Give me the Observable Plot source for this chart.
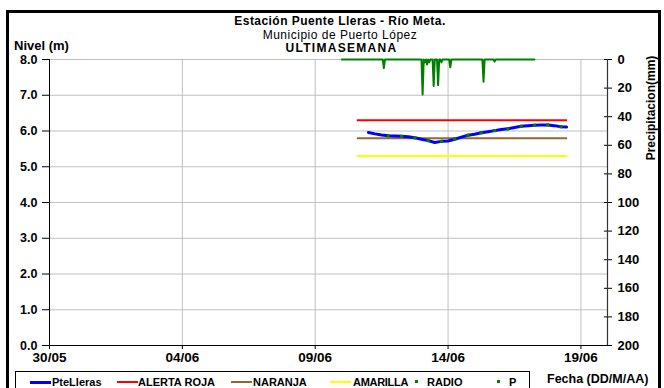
<!DOCTYPE html>
<html>
<head>
<meta charset="utf-8">
<script src="https://cdn.jsdelivr.net/npm/d3@7"></script>
<script src="https://cdn.jsdelivr.net/npm/@observablehq/plot@0.6"></script>
<style>
  html, body { margin: 0; padding: 0; background: #fff; }
  #wrap { position: relative; width: 664px; height: 388px; overflow: hidden; font-family: "Liberation Sans", Arial, sans-serif; color: #000; }
  #wrap svg { position: absolute; left: 0; top: 0; }
  .abs { position: absolute; white-space: nowrap; line-height: 13px; }
  #border { position: absolute; left: 6px; top: 10px; width: 655px; height: 400px; border: 3px solid #000; box-sizing: border-box; }
  #legend { position: absolute; left: 15px; top: 371px; width: 515px; height: 30px; border: 1px solid #000; box-sizing: border-box; }
  .lg { position: absolute; top: 4px; font-size: 11px; font-weight: bold; line-height: 12px; white-space: nowrap; }
  .sw { position: absolute; }
</style>
</head>
<body>
<div id="wrap">
  <div id="border"></div>
</div>
<script>
// ---------------- DATA ----------------
const YEAR = 2024;
const xDomainLabels = ["30/05 00:00", "20/06 00:00"];
const xTickLabels = ["30/05", "04/06", "09/06", "14/06", "19/06"];
const levelTicks = [0, 1, 2, 3, 4, 5, 6, 7, 8];
const precipTicks = [0, 20, 40, 60, 80, 100, 120, 140, 160, 180, 200];

// PteLleras water level (m)
const levelTimes = [
  "11/06 00:00", "11/06 06:00", "11/06 12:00", "11/06 18:00",
  "12/06 00:00", "12/06 06:00", "12/06 12:00", "12/06 18:00",
  "13/06 00:00", "13/06 06:00", "13/06 12:00", "13/06 18:00",
  "14/06 00:00", "14/06 06:00", "14/06 12:00", "14/06 18:00",
  "15/06 00:00", "15/06 06:00", "15/06 12:00", "15/06 18:00",
  "16/06 00:00", "16/06 06:00", "16/06 12:00", "16/06 18:00",
  "17/06 00:00", "17/06 06:00", "17/06 12:00", "17/06 18:00",
  "18/06 00:00", "18/06 06:00", "18/06 11:00"
];
const levelValues = [
  5.96, 5.92, 5.89, 5.87,
  5.86, 5.85, 5.84, 5.81,
  5.77, 5.73, 5.68, 5.71,
  5.72, 5.77, 5.83, 5.88,
  5.91, 5.95, 5.98, 6.01,
  6.04, 6.06, 6.10, 6.13,
  6.15, 6.16, 6.17, 6.17,
  6.15, 6.12, 6.11
];

// RADIO readings (m)
const radioTimes = [
  "11/06 18:00", "12/06 06:00", "12/06 18:00", "13/06 06:00", "13/06 18:00",
  "14/06 06:00", "14/06 18:00", "15/06 06:00", "15/06 18:00", "16/06 06:00",
  "16/06 18:00", "17/06 06:00", "17/06 18:00", "18/06 06:00"
];
const radioValues = [5.87, 5.85, 5.81, 5.73, 5.71, 5.78, 5.88, 5.95, 6.01, 6.06, 6.13, 6.16, 6.17, 6.12];

// Alert thresholds (m)
const thresholdNames = ["ALERTA ROJA", "NARANJA", "AMARILLA"];
const thresholdValues = [6.3, 5.8, 5.3];
const thresholdStart = "10/06 14:00";
const thresholdEnd = "18/06 12:00";

// Precipitation P (mm)
const pTimes = [
  "10/06 00:00", "11/06 13:00", "11/06 14:00", "11/06 15:00",
  "13/06 00:00", "13/06 01:00", "13/06 02:00", "13/06 03:00", "13/06 04:00",
  "13/06 05:00", "13/06 06:00", "13/06 07:00", "13/06 08:00",
  "13/06 10:00", "13/06 11:00", "13/06 12:00",
  "13/06 14:00", "13/06 15:00", "13/06 16:00",
  "13/06 17:00", "13/06 18:00", "13/06 19:00",
  "14/06 01:00", "14/06 02:00", "14/06 03:00",
  "15/06 07:00", "15/06 08:00", "15/06 09:00",
  "15/06 17:00", "15/06 18:00", "15/06 19:00",
  "17/06 06:00"
];
const pValues = [
  0, 0, 6, 0,
  0, 24.5, 0, 2, 0,
  3.5, 0, 2, 0,
  0, 18.5, 0,
  0, 18, 0,
  0, 2, 0,
  0, 5.5, 0,
  0, 15.5, 0,
  0, 1.5, 0,
  0
];

const legendNames = ["PteLleras", "ALERTA ROJA", "NARANJA", "AMARILLA", "RADIO", "P"];

// ---------------- STYLE ----------------
const colors = {
  "PteLleras": "#0000ff", "ALERTA ROJA": "#ff0000", "NARANJA": "#996633",
  "AMARILLA": "#ffff00", "RADIO": "#008000", "P": "#008000"
};
const FONT = '"Liberation Sans", Arial, sans-serif';

// ---------------- BUILD ----------------
const parse = d3.utcParse("%d/%m/%Y %H:%M");
const t = s => parse(s.replace(" ", "/" + YEAR + " "));
const tDay = s => t(s + " 00:00");
const PMAX = 200, LMAX = 8;
const pToY = p => LMAX - p * LMAX / PMAX;

const xMin = t(xDomainLabels[0]), xMax = t(xDomainLabels[1]);
const xTicks = xTickLabels.map(tDay);
const xLabelOf = new Map(xTicks.map((d, i) => [+d, xTickLabels[i]]));

const level = levelTimes.map((s, i) => ({time: t(s), value: levelValues[i]}));
const radio = radioTimes.map((s, i) => ({time: t(s), value: radioValues[i]}));
const precip = pTimes.map((s, i) => ({time: t(s), value: pValues[i]}));
const thresholds = thresholdNames.map((n, i) => ({name: n, value: thresholdValues[i], x1: t(thresholdStart), x2: t(thresholdEnd)}));

const chart = Plot.plot({
  width: 664,
  height: 388,
  marginLeft: 49,
  marginRight: 57,
  marginTop: 59,
  marginBottom: 43,
  style: {fontFamily: FONT, fontSize: "12.5px", fontWeight: "bold", color: "#000", background: "transparent", overflow: "visible"},
  x: {type: "utc", domain: [xMin, xMax]},
  y: {domain: [0, LMAX]},
  marks: [
    Plot.gridY(levelTicks, {stroke: "#c0c0c0", strokeOpacity: 1, strokeWidth: 1}),
    Plot.gridX(xTicks, {stroke: "#c0c0c0", strokeOpacity: 1, strokeWidth: 1}),
    Plot.axisY(levelTicks, {anchor: "left", tickSize: 7, tickPadding: 5, tickFormat: d3.format(".1f"), label: null, stroke: "#000"}),
    Plot.axisX(xTicks, {anchor: "bottom", tickSize: 4, tickPadding: 3, tickFormat: d => xLabelOf.get(+d), label: null, stroke: "#000", fontSize: 13.5}),
    Plot.axisY(precipTicks.map(pToY), {anchor: "right", tickSize: 8, dx: -4, tickFormat: () => "", label: null, stroke: "#000"}),
    Plot.axisY(precipTicks.map(pToY), {anchor: "right", tickSize: 0, tickPadding: 10, tickFormat: v => String(Math.round((LMAX - v) * PMAX / LMAX)), label: null, fontSize: 13}),
    Plot.ruleX([xMin], {stroke: "#000"}),
    Plot.ruleX([xMax], {stroke: "#333", strokeWidth: 1.2}),
    Plot.ruleY([0], {stroke: "#000"}),
    ...thresholds.map(d => Plot.ruleY([d], {y: "value", x1: "x1", x2: "x2", stroke: colors[d.name], strokeWidth: 2})),
    Plot.line(precip, {x: "time", y: d => pToY(d.value), stroke: colors.P, strokeWidth: 2, curve: "linear"}),
    Plot.line(level, {x: "time", y: "value", stroke: colors.PteLleras, strokeWidth: 3}),
    Plot.dot(radio, {x: "time", y: "value", fill: colors.RADIO, stroke: "none", r: 1.8, symbol: "square"})
  ]
});

const wrap = document.getElementById("wrap");
wrap.insertBefore(chart, wrap.firstChild);

function addText(txt, css) {
  const el = document.createElement("div");
  el.className = "abs";
  el.textContent = txt;
  Object.assign(el.style, css);
  wrap.appendChild(el);
  return el;
}

// Titles
addText("Estación Puente Lleras - Río Meta.", {left: "0px", width: "680px", textAlign: "center", top: "15px", fontSize: "12px", fontWeight: "bold", letterSpacing: "0.45px"});
addText("Municipio de Puerto López", {left: "0px", width: "680px", textAlign: "center", top: "28.5px", fontSize: "12px", letterSpacing: "0.5px"});
addText("ULTIMASEMANA", {left: "0px", width: "683px", textAlign: "center", top: "42px", fontSize: "12px", fontWeight: "bold", letterSpacing: "1.3px"});
addText("Nivel (m)", {left: "14px", top: "39px", fontSize: "13px", fontWeight: "bold"});
addText("Fecha (DD/M/AA)", {left: "547px", top: "373px", fontSize: "12.5px", fontWeight: "bold"});
const rl = addText("Precipitacion(mm)", {left: "651px", top: "108px", fontSize: "12px", fontWeight: "bold"});
rl.style.transform = "translate(-50%, -50%) rotate(-90deg)";

// Legend
const legend = document.createElement("div");
legend.id = "legend";
wrap.appendChild(legend);
const lgPos = {
  "PteLleras": [14, 36], "ALERTA ROJA": [101, 122], "NARANJA": [215, 237],
  "AMARILLA": [314, 337], "RADIO": [400, 411], "P": [482, 493]
};
legendNames.forEach(n => {
  const [sx, tx] = lgPos[n];
  const sw = document.createElement("div");
  sw.className = "sw";
  if (n === "RADIO" || n === "P") {
    Object.assign(sw.style, {left: sx - 1 + "px", top: "8px", width: "3px", height: "3px", background: colors[n]});
  } else {
    const h = n === "PteLleras" ? 3 : 2;
    Object.assign(sw.style, {left: sx + "px", top: (10 - h / 2) + "px", width: "21px", height: h + "px", background: colors[n]});
  }
  legend.appendChild(sw);
  const lb = document.createElement("div");
  lb.className = "lg";
  lb.style.left = tx + "px";
  if (n === "AMARILLA") lb.style.letterSpacing = "-0.3px";
  lb.textContent = n;
  legend.appendChild(lb);
});
</script>
</body>
</html>
